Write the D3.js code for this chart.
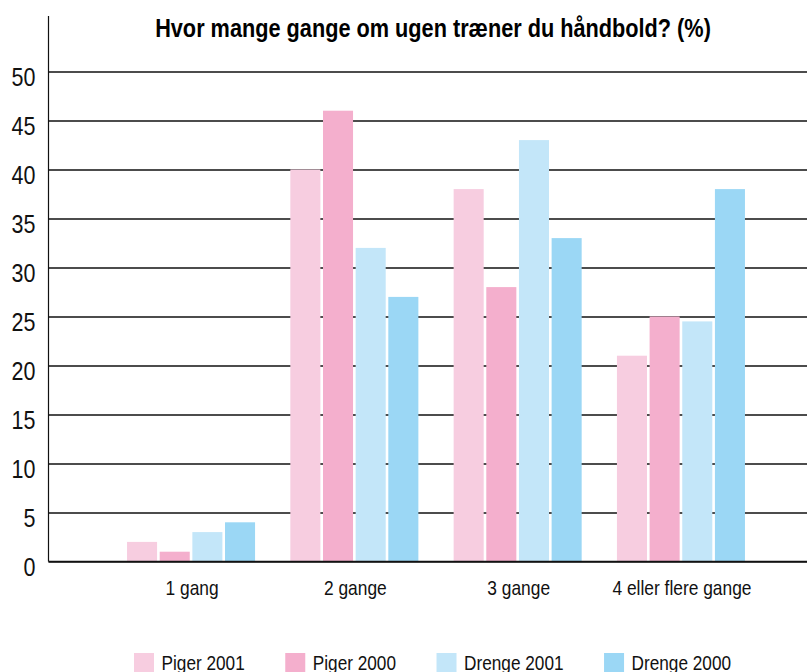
<!DOCTYPE html>
<html>
<head>
<meta charset="utf-8">
<script src="https://cdnjs.cloudflare.com/ajax/libs/d3/7.8.5/d3.min.js"></script>
<style>
  html, body { margin: 0; padding: 0; background: #fff; }
  svg { display: block; }
</style>
</head>
<body>
<svg id="chart" width="807" height="672"></svg>
<script>
const title = "Hvor mange gange om ugen træner du håndbold? (%)";
const categories = ["1 gang", "2 gange", "3 gange", "4 eller flere gange"];
const seriesNames = ["Piger 2001", "Piger 2000", "Drenge 2001", "Drenge 2000"];
const piger2001 = [2, 40, 38, 21];
const piger2000 = [1, 46, 28, 25];
const drenge2001 = [3, 32, 43, 24.5];
const drenge2000 = [4, 27, 33, 38];
const yTicks = [0, 5, 10, 15, 20, 25, 30, 35, 40, 45, 50];
const colors = ["#f7cde0", "#f4afcd", "#c3e6f9", "#9bd7f5"];

const seriesValues = [piger2001, piger2000, drenge2001, drenge2000];

const svg = d3.select("#chart");
const W = 807;
const axisX = 48.5;
const plotTop = 16;
const FONT = "'Liberation Sans', Arial, Helvetica, sans-serif";
const COND = 0.84;

const y = d3.scaleLinear().domain([0, 50]).range([561.5, 71.5]);

const x0 = d3.scaleBand()
  .domain(categories)
  .range([109.4, 762.6])
  .paddingInner(0.216)
  .paddingOuter(0.108);

const x1 = d3.scaleBand()
  .domain(seriesNames)
  .range([0, x0.bandwidth()])
  .paddingInner(0.08)
  .paddingOuter(0);

// gridlines + tick labels
const yAxis = d3.axisLeft(y)
  .tickValues(yTicks)
  .tickSize(-(W - axisX))
  .tickPadding(13)
  .tickFormat(d3.format("d"));

const gAxis = svg.append("g")
  .attr("transform", `translate(${axisX},0)`)
  .call(yAxis);
gAxis.select(".domain").remove();
gAxis.selectAll(".tick line")
  .attr("stroke", "#111")
  .attr("stroke-width", 1.4);
gAxis.selectAll(".tick text")
  .attr("x", null)
  .attr("transform", "translate(-13,0) scale(0.86,1)")
  .attr("fill", "#111")
  .style("font-family", FONT)
  .style("font-size", "25px")
  .attr("dy", "0.54em");

// bars
const groups = svg.append("g").selectAll("g")
  .data(categories)
  .join("g")
  .attr("transform", d => `translate(${x0(d)},0)`);

groups.selectAll("rect")
  .data((c, ci) => seriesNames.map((s, si) => ({ s, si, v: seriesValues[si][ci] })))
  .join("rect")
  .attr("x", d => x1(d.s))
  .attr("width", x1.bandwidth())
  .attr("y", d => y(d.v))
  .attr("height", d => y(0) - y(d.v))
  .attr("fill", d => colors[d.si]);

// baseline
svg.append("line")
  .attr("x1", axisX).attr("x2", W)
  .attr("y1", y(0)).attr("y2", y(0))
  .attr("stroke", "#111").attr("stroke-width", 1.4);

// y axis line
svg.append("line")
  .attr("x1", axisX).attr("x2", axisX)
  .attr("y1", plotTop).attr("y2", y(0))
  .attr("stroke", "#111").attr("stroke-width", 1.2);

// category labels (condensed)
svg.append("g").selectAll("text")
  .data(categories)
  .join("text")
  .attr("transform", d => `translate(${x0(d) + x0.bandwidth() / 2 + 1},595) scale(${COND},1)`)
  .attr("text-anchor", "middle")
  .attr("fill", "#111")
  .style("font-family", FONT)
  .style("font-size", "20.7px")
  .text(d => d);

// title (bold condensed)
svg.append("text")
  .attr("transform", `translate(433,37) scale(0.835,1)`)
  .attr("text-anchor", "middle")
  .attr("fill", "#000")
  .style("font-family", FONT)
  .style("font-weight", "bold")
  .style("font-size", "26px")
  .text(title);

// legend
const legend = svg.append("g");
let lx = 134;
seriesNames.forEach((name, i) => {
  const item = legend.append("g").attr("transform", `translate(${lx},0)`);
  item.append("rect")
    .attr("x", 0).attr("y", 653)
    .attr("width", 20).attr("height", 20)
    .attr("fill", colors[i]);
  const t = item.append("text")
    .attr("transform", `translate(27.5,670) scale(${COND},1)`)
    .attr("fill", "#111")
    .style("font-family", FONT)
    .style("font-size", "20.5px")
    .text(name);
  lx += 27.5 + t.node().getComputedTextLength() * COND + 40.5;
});
</script>
</body>
</html>
